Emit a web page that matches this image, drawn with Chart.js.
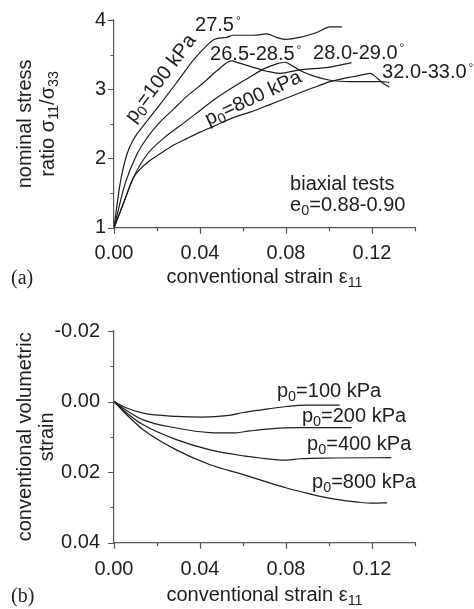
<!DOCTYPE html>
<html>
<head>
<meta charset="utf-8">
<script src="https://cdn.jsdelivr.net/npm/chart.js@4.4.1/dist/chart.umd.min.js"></script>
<style>
  html, body { margin: 0; padding: 0; background: #fff; }
  body { width: 474px; height: 609px; position: relative; overflow: hidden; }
  .panel { position: absolute; left: 0; width: 474px; }
  #panelA { top: 0; height: 300px; }
  #panelB { top: 300px; height: 309px; }
  .tag { position: absolute; left: 11px; font: 20px "Liberation Serif", "Times New Roman", serif; color: #222; }
</style>
</head>
<body>
<div class="panel" id="panelA"><canvas id="chartA" width="474" height="300"></canvas></div>
<div class="panel" id="panelB"><canvas id="chartB" width="474" height="309"></canvas></div>
<div class="tag" style="top:266px">(a)</div>
<div class="tag" style="top:584px">(b)</div>
<script>
// ---- (a) stress ratio vs. axial strain, biaxial tests ----
const strain100 = [0, 0.0028, 0.0059, 0.009, 0.0136, 0.0214, 0.029, 0.0369, 0.0431, 0.0462, 0.0478, 0.0524, 0.0555, 0.065, 0.071, 0.0756, 0.080, 0.0865, 0.0943, 0.1006, 0.106];
const ratio100  = [1, 1.63, 2.05, 2.27, 2.47, 2.78, 3.09, 3.42, 3.63, 3.71, 3.73, 3.75, 3.78, 3.78, 3.80, 3.75, 3.72, 3.75, 3.82, 3.90, 3.90];

const strain200 = [0, 0.0051, 0.0105, 0.0152, 0.0214, 0.0276, 0.034, 0.0415, 0.048, 0.0547, 0.058, 0.0633, 0.071, 0.0772, 0.0865, 0.0943, 0.1005, 0.1105];
const ratio200  = [1, 1.63, 2.05, 2.29, 2.525, 2.71, 2.90, 3.09, 3.27, 3.41, 3.38, 3.33, 3.26, 3.23, 3.28, 3.30, 3.32, 3.385];

const strain400 = [0, 0.0045, 0.009, 0.0152, 0.023, 0.033, 0.0415, 0.048, 0.057, 0.0635, 0.0694, 0.075, 0.0795, 0.0834, 0.0865, 0.093, 0.1005, 0.11, 0.1237, 0.128];
const ratio400  = [1, 1.36, 1.72, 2.05, 2.29, 2.525, 2.73, 2.88, 3.06, 3.18, 3.29, 3.36, 3.39, 3.33, 3.27, 3.19, 3.13, 3.11, 3.11, 3.10];

const strain800 = [0, 0.0045, 0.009, 0.012, 0.0167, 0.022, 0.0276, 0.034, 0.040, 0.046, 0.0555, 0.0633, 0.071, 0.080, 0.0865, 0.0943, 0.1005, 0.106, 0.111, 0.116, 0.119, 0.1225, 0.125, 0.128];
const ratio800  = [1, 1.36, 1.72, 1.84, 1.97, 2.08, 2.19, 2.29, 2.38, 2.46, 2.59, 2.67, 2.76, 2.87, 2.95, 3.04, 3.11, 3.15, 3.18, 3.21, 3.23, 3.16, 3.09, 3.03];

// ---- (b) volumetric strain vs. axial strain ----
const vStrain100 = [0, 0.005, 0.0136, 0.0292, 0.0415, 0.0524, 0.0602, 0.068, 0.0803, 0.0896, 0.105];
const vol100     = [0, 0.0016, 0.0033, 0.0042, 0.0044, 0.0040, 0.0031, 0.0024, 0.0014, 0.0010, 0.0010];

const vStrain200 = [0, 0.005, 0.0136, 0.029, 0.0447, 0.0555, 0.0633, 0.071, 0.0865, 0.1105];
const vol200     = [0, 0.0022, 0.0052, 0.0075, 0.0088, 0.0089, 0.0083, 0.0078, 0.0074, 0.0074];

const vStrain400 = [0, 0.005, 0.0136, 0.029, 0.0447, 0.0602, 0.068, 0.0803, 0.0865, 0.102, 0.129];
const vol400     = [0, 0.0028, 0.0066, 0.0108, 0.0137, 0.0154, 0.0160, 0.0166, 0.0162, 0.0160, 0.0159];

const vStrain800 = [0, 0.005, 0.0136, 0.029, 0.0447, 0.0602, 0.068, 0.0803, 0.090, 0.102, 0.1135, 0.1207, 0.127];
const vol800     = [0, 0.0032, 0.0080, 0.0137, 0.0179, 0.0207, 0.0222, 0.0245, 0.0260, 0.0276, 0.0285, 0.0288, 0.0287];

// labelled tick values
const strainTicks = [0.00, 0.04, 0.08, 0.12];
const ratioTicks  = [1, 2, 3, 4];
const volTicks    = [-0.02, 0.00, 0.02, 0.04];

// text labels placed in data coordinates
const labelsA = [
  { text: "27.5^{°}",        x: 0.0377, y: 3.94 },
  { text: "26.5-28.5^{°}",   x: 0.0447, y: 3.52 },
  { text: "28.0-29.0^{°}",   x: 0.0926, y: 3.545 },
  { text: "32.0-33.0^{°}",   x: 0.1247, y: 3.26 },
  { text: "p_{0}=100 kPa",   x: 0.0212, y: 3.17, angle: -53, align: "center" },
  { text: "p_{0}=800 kPa",   x: 0.0645, y: 2.89, angle: -25, align: "center" },
  { text: "biaxial tests",   x: 0.0819, y: 1.647 },
  { text: "e_{0}=0.88-0.90", x: 0.0819, y: 1.35 }
];
const labelsB = [
  { text: "p_{0}=100 kPa", x: 0.0758, y: -0.0033 },
  { text: "p_{0}=200 kPa", x: 0.0874, y: 0.0038 },
  { text: "p_{0}=400 kPa", x: 0.0898, y: 0.0117 },
  { text: "p_{0}=800 kPa", x: 0.0921, y: 0.0225 }
];

const FONT = '"Liberation Sans", Arial, Helvetica, sans-serif';
const INK = "#1e1e1e";
const AXIS = "#555";
Chart.defaults.font.family = FONT;
Chart.defaults.color = INK;

const toPoints = (xs, ys) => xs.map((x, i) => ({ x, y: ys[i] }));
const near = (v, list) => list.some(t => Math.abs(v - t) < 1e-7);

function curve(xs, ys) {
  return {
    data: toPoints(xs, ys),
    borderColor: INK,
    borderWidth: 1.2,
    pointRadius: 0,
    fill: false,
    cubicInterpolationMode: "monotone"
  };
}

// split "a_{b}^{c}" into normal / subscript / superscript runs
function parseRich(str) {
  const parts = [];
  const re = /([_^])\{([^}]*)\}/g;
  let last = 0, m;
  while ((m = re.exec(str))) {
    if (m.index > last) parts.push({ t: str.slice(last, m.index), k: "n" });
    parts.push({ t: m[2], k: m[1] === "_" ? "sub" : "sup" });
    last = re.lastIndex;
  }
  if (last < str.length) parts.push({ t: str.slice(last), k: "n" });
  return parts;
}

function drawRich(ctx, str, x, y, opt = {}) {
  const size = opt.size || 20;
  const align = opt.align || "left";
  const angle = opt.angle || 0;
  const parts = parseRich(str);
  const fontFor = k => (k === "n" ? size : k === "sub" ? size * 0.72 : size * 0.6) + "px " + FONT;
  let w = 0;
  parts.forEach(p => { ctx.font = fontFor(p.k); p.w = ctx.measureText(p.t).width + (p.k === "sup" ? 2 : 0); w += p.w; });
  ctx.save();
  ctx.translate(x, y);
  ctx.rotate(angle * Math.PI / 180);
  ctx.fillStyle = INK;
  ctx.textBaseline = "alphabetic";
  ctx.textAlign = "left";
  let cx = align === "center" ? -w / 2 : align === "right" ? -w : 0;
  const base = 0.36 * size;
  parts.forEach(p => {
    ctx.font = fontFor(p.k);
    const dy = p.k === "sub" ? base + 0.2 * size : p.k === "sup" ? base - 0.32 * size : base;
    ctx.fillText(p.t, cx + (p.k === "sup" ? 2 : 0), dy);
    cx += p.w;
  });
  ctx.restore();
}

// tick marks (long for labelled values, short otherwise), axis titles, text labels
const decor = {
  id: "decor",
  afterDraw(chart, args, o) {
    const ctx = chart.ctx;
    const { x: xs, y: ys } = chart.scales;
    ctx.save();
    ctx.strokeStyle = AXIS;
    ctx.lineWidth = 1.2;
    ctx.beginPath();
    xs.ticks.forEach(t => {
      const px = Math.round(xs.getPixelForValue(t.value)) + 0.5;
      const len = near(t.value, o.xMajor) ? 6 : 3.5;
      ctx.moveTo(px, ys.bottom); ctx.lineTo(px, ys.bottom + len);
    });
    ys.ticks.forEach(t => {
      const py = Math.round(ys.getPixelForValue(t.value)) + 0.5;
      const len = near(t.value, o.yMajor) ? 6 : 3.5;
      ctx.moveTo(xs.left, py); ctx.lineTo(xs.left - len, py);
    });
    ctx.stroke();
    ctx.restore();

    const area = chart.chartArea;
    drawRich(ctx, "conventional strain ε_{11}", (area.left + area.right) / 2, area.bottom + o.xTitleGap, { align: "center" });
    const midY = (area.top + area.bottom) / 2;
    o.yTitle.forEach((line, i) => drawRich(ctx, line, o.yTitleX[i], midY, { align: "center", angle: -90 }));

    o.labels.forEach(l => drawRich(ctx, l.text, xs.getPixelForValue(l.x), ys.getPixelForValue(l.y), { align: l.align, angle: l.angle }));
  }
};

function xScale(pad, height) {
  return {
    type: "linear", min: 0, max: 0.14,
    grid: { display: false, drawTicks: false },
    border: { display: true, color: AXIS, width: 1.2 },
    ticks: {
      stepSize: 0.02, autoSkip: false, maxRotation: 0, padding: pad,
      font: { size: 20 }, color: INK,
      callback: v => (near(v, strainTicks) ? v.toFixed(2) : "")
    },
    afterFit: s => { s.height = height; }
  };
}

new Chart(document.getElementById("chartA"), {
  type: "line",
  data: { datasets: [curve(strain100, ratio100), curve(strain200, ratio200), curve(strain400, ratio400), curve(strain800, ratio800)] },
  options: {
    responsive: false, animation: false, events: [],
    layout: { padding: { left: 0, top: 16, right: 59, bottom: 0 } },
    plugins: {
      legend: { display: false }, tooltip: { enabled: false },
      decor: { xMajor: strainTicks, yMajor: ratioTicks, xTitleGap: 48, yTitle: ["nominal stress", "ratio σ_{11}/σ_{33}"], yTitleX: [24, 47], labels: labelsA }
    },
    scales: {
      x: xScale(14, 72.3),
      y: {
        type: "linear", min: 1, max: 4,
        grid: { display: false, drawTicks: false },
        border: { display: true, color: AXIS, width: 1.2 },
        ticks: { stepSize: 0.5, padding: 8, font: { size: 20 }, color: INK, callback: v => (near(v, ratioTicks) ? String(v) : "") },
        afterFit: s => { s.width = 114; }
      }
    }
  },
  plugins: [decor]
});

new Chart(document.getElementById("chartB"), {
  type: "line",
  data: { datasets: [curve(vStrain100, vol100), curve(vStrain200, vol200), curve(vStrain400, vol400), curve(vStrain800, vol800)] },
  options: {
    responsive: false, animation: false, events: [],
    layout: { padding: { left: 0, top: 31, right: 59, bottom: 0 } },
    plugins: {
      legend: { display: false }, tooltip: { enabled: false },
      decor: { xMajor: strainTicks, yMajor: volTicks, xTitleGap: 51, yTitle: ["conventional volumetric", "strain"], yTitleX: [24, 46], labels: labelsB }
    },
    scales: {
      x: xScale(15, 66.3),
      y: {
        type: "linear", min: -0.02, max: 0.04, reverse: true,
        grid: { display: false, drawTicks: false },
        border: { display: true, color: AXIS, width: 1.2 },
        ticks: { stepSize: 0.01, padding: 14, font: { size: 20 }, color: INK, callback: v => (near(v, volTicks) ? (Math.abs(v) < 1e-9 ? "0.00" : v.toFixed(2)) : "") },
        afterFit: s => { s.width = 114; }
      }
    }
  },
  plugins: [decor]
});
</script>
</body>
</html>
